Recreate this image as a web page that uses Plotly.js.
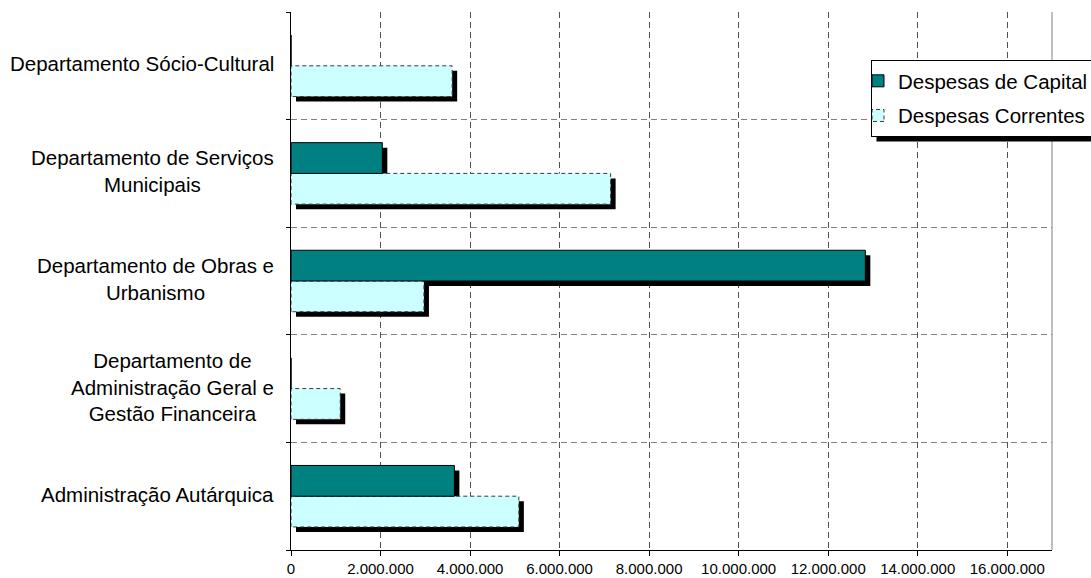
<!DOCTYPE html>
<html>
<head>
<meta charset="utf-8">
<script src="https://cdn.plot.ly/plotly-3.0.1.min.js"></script>
<style>html,body{margin:0;padding:0;background:#fff;}</style>
</head>
<body>
<div id="chart" style="width:1091px;height:578px;"></div>
<script>
// Categories, bottom to top
const categories = [
  'Administração Autárquica',
  'Departamento de Administração Geral e Gestão Financeira',
  'Departamento de Obras e Urbanismo',
  'Departamento de Serviços Municipais',
  'Departamento Sócio-Cultural'
];
const categoryLabels = [
  'Administração Autárquica',
  'Departamento de<br>Administração Geral e<br>Gestão Financeira',
  'Departamento de Obras e<br>Urbanismo',
  'Departamento de Serviços<br>Municipais',
  'Departamento Sócio-Cultural'
];
const seriesNames = ['Despesas de Capital', 'Despesas Correntes'];
const despesasCapital = [3650000, 0, 12830000, 2040000, 0];
const despesasCorrentes = [5090000, 1100000, 2970000, 7140000, 3600000];
const xTicks = [0, 2000000, 4000000, 6000000, 8000000, 10000000, 12000000, 14000000, 16000000];
const xMax = 17000000;

const W = 1091, H = 578;
const M = {l: 291, r: 39, t: 12, b: 28};
const plotW = W - M.l - M.r, plotH = H - M.t - M.b;
const FONT = 'Arial, "Liberation Sans", sans-serif';
const TEAL = '#008080', CYAN = '#CCFFFF';

// Drop shadow: same bars on a hidden axis pair shifted a few pixels right and down
const shadowPx = 5;
const dx = shadowPx / plotW * xMax;
const dy = shadowPx / (plotH / categories.length);

function barTrace(values, name, color, lineColor, lineWidth, axes, legend, rank) {
  return {
    type: 'bar', orientation: 'h',
    x: values, y: categories,
    name: name, legendgroup: name, legendrank: rank,
    xaxis: axes[0], yaxis: axes[1],
    marker: {color: color, line: {color: lineColor, width: lineWidth}},
    showlegend: legend, hoverinfo: legend ? 'x+name' : 'skip'
  };
}

const data = [
  barTrace(despesasCorrentes, seriesNames[1] + ' (sombra)', '#000', '#000', 0, ['x', 'y'], false, 1000),
  barTrace(despesasCapital, seriesNames[0] + ' (sombra)', '#000', '#000', 0, ['x', 'y'], false, 1000),
  barTrace(despesasCorrentes, seriesNames[1], CYAN, '#3a3a3a', 1, ['x2', 'y2'], true, 2),
  barTrace(despesasCapital, seriesNames[0], TEAL, '#000', 1, ['x2', 'y2'], true, 1)
];

const hidden = {showgrid: false, zeroline: false, showline: false, showticklabels: false, ticks: '', fixedrange: true};

const layout = {
  width: W, height: H,
  margin: {l: M.l, r: M.r, t: M.t, b: M.b, autoexpand: false},
  paper_bgcolor: '#fff', plot_bgcolor: '#fff',
  font: {family: FONT, color: '#000', size: 20.5},
  separators: ',.',
  barmode: 'group', bargap: 3 / 7, bargroupgap: 0,
  showlegend: true,
  xaxis: Object.assign({range: [-dx, xMax - dx]}, hidden),
  yaxis: Object.assign({type: 'category', categoryorder: 'array', categoryarray: categories,
    range: [-0.5 + dy, categories.length - 0.5 + dy]}, hidden),
  xaxis2: {
    overlaying: 'x', anchor: 'y', side: 'bottom',
    range: [0, xMax], tickmode: 'array', tickvals: xTicks, tickformat: ',d',
    ticks: 'outside', ticklen: 5, tickcolor: '#000', tickwidth: 1,
    tickfont: {size: 15, family: FONT, color: '#000'}, ticklabelstandoff: 0,
    showline: true, linecolor: '#000', linewidth: 1,
    showgrid: true, gridcolor: '#505050', gridwidth: 1, griddash: '6px,4px',
    zeroline: false, fixedrange: true
  },
  yaxis2: {
    overlaying: 'y', anchor: 'x', side: 'left',
    type: 'category', categoryorder: 'array', categoryarray: categories,
    range: [-0.5, categories.length - 0.5],
    tickson: 'boundaries', ticks: 'outside', ticklen: 4, tickcolor: '#000', tickwidth: 1,
    showticklabels: false,
    showline: true, linecolor: '#000', linewidth: 1,
    showgrid: true, gridcolor: '#808080', gridwidth: 1, griddash: '6px,4px',
    zeroline: false, fixedrange: true
  },
  legend: {
    x: (871 - M.l) / plotW, y: (H - M.b - 60) / plotH,
    xanchor: 'left', yanchor: 'top',
    bgcolor: '#fff', bordercolor: '#000', borderwidth: 1,
    font: {family: FONT, size: 20.5, color: '#000'},
    traceorder: 'grouped', tracegroupgap: 5, indentation: -14
  },
  annotations: categories.map((c, i) => ({
    xref: 'paper', yref: 'y2', x: 0, y: c, xshift: -15, yshift: 2,
    xanchor: 'right', yanchor: 'middle', align: 'center',
    text: categoryLabels[i], showarrow: false,
    font: {family: FONT, size: 20.5, color: '#000'}
  })),
  shapes: [
    {type: 'line', xref: 'paper', yref: 'paper', x0: 1, x1: 1, y0: 0, y1: 1,
     line: {color: '#808080', width: 1}}
  ]
};

const gd = document.getElementById('chart');
Plotly.newPlot(gd, data, layout, {staticPlot: true, displayModeBar: false}).then(() => {
  // Shadow under the legend box, placed from its rendered size
  const bg = gd.querySelector('.legend .bg');
  const host = gd.getBoundingClientRect();
  const r = bg.getBoundingClientRect();
  const left = r.left - host.left + shadowPx, top = r.top - host.top + shadowPx;
  const right = r.right - host.left + shadowPx, bottom = r.bottom - host.top + shadowPx;
  const shadow = {
    type: 'rect', xref: 'paper', yref: 'paper', layer: 'above',
    x0: (left - M.l) / plotW, x1: (right - M.l) / plotW,
    y0: (H - M.b - bottom) / plotH, y1: (H - M.b - top) / plotH,
    fillcolor: '#000', line: {width: 0}
  };
  return Plotly.relayout(gd, {shapes: layout.shapes.concat([shadow])});
}).then(() => {
  // Dashed outline for the "Despesas Correntes" bars and legend key
  gd.querySelectorAll('.barlayer path, .legendpoints path').forEach(p => {
    const fill = (p.style.fill || '').replace(/\s/g, '');
    if (fill === 'rgb(204,255,255)') p.style.strokeDasharray = '4px,3px';
  });
});
</script>
</body>
</html>
